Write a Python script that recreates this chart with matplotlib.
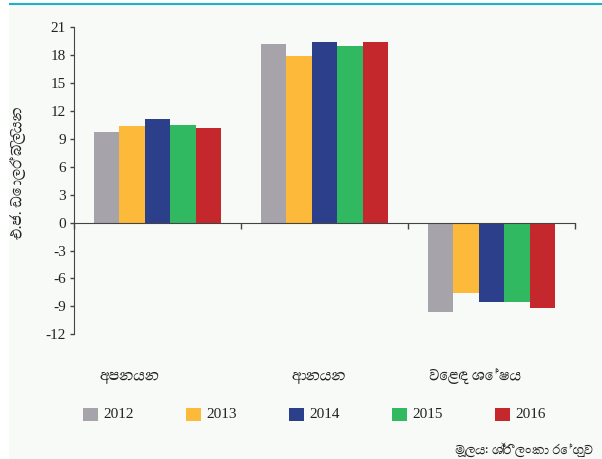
import numpy as np
import matplotlib
matplotlib.use("Agg")
import matplotlib.pyplot as plt
from matplotlib import font_manager
from matplotlib.ft2font import FT2Font
from matplotlib.patches import Rectangle
from matplotlib.lines import Line2D

categories = ["අපනයන", "ආනයන", "වෙළඳ ශේෂය"]
years = ["2012", "2013", "2014", "2015", "2016"]
values_2012 = [9.75, 19.25, -9.6]
values_2013 = [10.4, 17.95, -7.6]
values_2014 = [11.15, 19.45, -8.5]
values_2015 = [10.45, 19.0, -8.5]
values_2016 = [10.2, 19.45, -9.15]
y_ticks = list(range(-12, 22, 3))
y_label = "එ.ජ. ඩොලර් බිලියන"
source = "මූලය: ශ්‍රී ලංකා රේගුව"

colors = ["#a7a3aa", "#fdb93a", "#2c3f8a", "#31b962", "#c4282d"]


def sinhala_font(size):
    # any installed font with Sinhala glyphs, regular weight preferred
    found = []
    for path in font_manager.findSystemFonts():
        try:
            cmap = FT2Font(path).get_charmap()
        except Exception:
            continue
        if 0x0D85 in cmap and 0x0DBA in cmap:
            found.append(path)
    if not found:
        return font_manager.FontProperties(family="DejaVu Sans", size=size)
    found.sort(key=lambda p: (("Bold" in p) or ("Black" in p) or ("Semi" in p),
                              "Regular" not in p, len(p)))
    return font_manager.FontProperties(fname=found[0], size=size)


plt.rcParams["font.family"] = ["Liberation Serif", "DejaVu Serif"]
plt.rcParams["axes.unicode_minus"] = False

fig = plt.figure(figsize=(6.02, 4.59), dpi=100)
fig.patch.set_facecolor("white")
# light panel and teal rule at the top
fig.add_artist(Rectangle((9 / 602, 0), 1, 1 - 5 / 459, transform=fig.transFigure,
                         facecolor="#f8faf8", edgecolor="none", zorder=0))
fig.add_artist(Line2D([10 / 602, 1], [1 - 4 / 459, 1 - 4 / 459], transform=fig.transFigure,
                      color="#1ab3c8", linewidth=1.5))

ax = fig.add_axes([74 / 602, 1 - 334.2 / 459, (575 - 74) / 602, (334.2 - 27.3) / 459])
ax.set_facecolor("none")

series = [values_2012, values_2013, values_2014, values_2015, values_2016]
x = np.arange(len(categories))
width = 0.153
for i, (vals, year) in enumerate(zip(series, years)):
    ax.bar(x + (i - 2) * width, vals, width, color=colors[i], label=year, zorder=2)

ax.set_xlim(-0.5, 2.5)
ax.set_ylim(-12, 21)
ax.set_yticks(y_ticks)
ax.tick_params(axis="y", labelsize=11, length=3, width=1, colors="#444444", pad=3)
ax.tick_params(axis="y", labelcolor="#222222")

ax.spines["top"].set_visible(False)
ax.spines["right"].set_visible(False)
ax.spines["bottom"].set_position(("data", 0))
ax.spines["bottom"].set_color("#444444")
ax.spines["bottom"].set_zorder(3)
ax.spines["left"].set_color("#444444")
ax.set_xticks([-0.5, 0.5, 1.5, 2.5])
ax.set_xticklabels([])
ax.tick_params(axis="x", direction="out", length=4, width=1, colors="#444444")

cat_font = sinhala_font(12)
for xc, label in zip([129, 319, 475], categories):
    fig.text(xc / 602, 1 - 376 / 459, label, ha="center", va="center",
             fontproperties=cat_font, color="#222222")

fig.text(18 / 602, 1 - 173 / 459, y_label, rotation=90, ha="center", va="center",
         fontproperties=sinhala_font(12), color="#222222")
fig.text(593 / 602, 1 - 450 / 459, source, ha="right", va="center",
         fontproperties=sinhala_font(10.5), color="#222222")

# legend row
for i, year in enumerate(years):
    x0 = 83 + i * 103
    fig.add_artist(Rectangle((x0 / 602, 1 - 421 / 459), 15 / 602, 13 / 459,
                             transform=fig.transFigure, facecolor=colors[i], edgecolor="none"))
    fig.text((x0 + 20) / 602, 1 - 414 / 459, year, ha="left", va="center",
             fontsize=11, color="#222222")

fig.savefig("out.png", dpi=100)
